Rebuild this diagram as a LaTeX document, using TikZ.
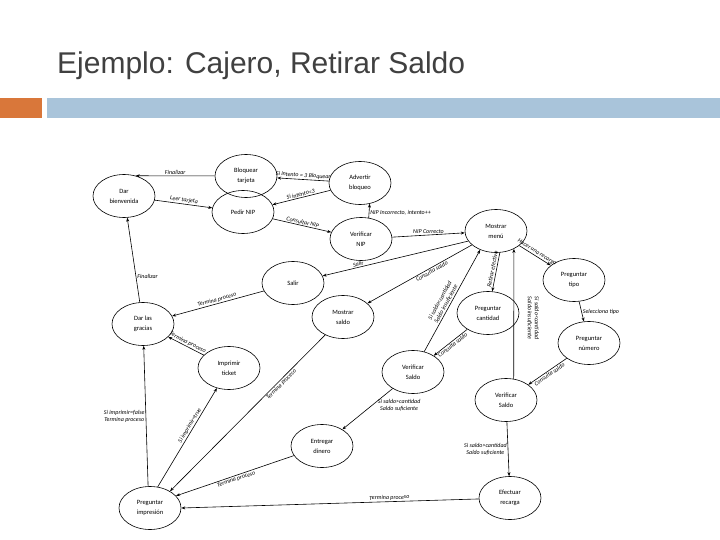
\documentclass[tikz,border=0pt]{standalone}
\usepackage{fontspec}
\setmainfont{Carlito}
\newfontfamily\titlefont{Liberation Sans}
\usetikzlibrary{arrows.meta,shapes.geometric}
\definecolor{tgray}{HTML}{404040}
\definecolor{orng}{HTML}{D9773A}
\definecolor{bbar}{HTML}{A9C4DA}
\begin{document}
\begin{tikzpicture}[x=1pt,y=-1pt,
  st/.style={draw,ellipse,minimum width=62pt,minimum height=43pt,inner sep=0pt,align=center,font=\fontsize{6.5}{10}\selectfont,line width=0.6pt},
  tr/.style={-{Stealth[length=4pt,width=3pt]},line width=0.6pt},
  lb/.style={font=\fontsize{6}{7}\selectfont\itshape,align=center,inner sep=1pt}]
\useasboundingbox (0,0) rectangle (720,540);
\node[anchor=base west,text=tgray,font=\titlefont\fontsize{30}{34}\selectfont,inner sep=0] (title) at (57,74) {Ejemplo: Cajero, Retirar Saldo};
\fill[orng] (0,98) rectangle (42,118);
\fill[bbar] (47,98) rectangle (720,118);

\node[st] (bien) at (124,196) {Dar\\bienvenida};
\node[st] (bloq) at (246,176) {Bloquear\\tarjeta};
\node[st] (adv) at (360,183) {Advertir\\bloqueo};
\node[st] (pnip) at (243,212) {Pedir NIP};
\node[st] (vnip) at (361,239) {Verificar\\NIP};
\node[st] (menu) at (496,231) {Mostrar\\menú};
\node[st] (ptipo) at (574,280) {Preguntar\\tipo};
\node[st] (pnum) at (589,343) {Preguntar\\número};
\node[st] (salir) at (293,283) {Salir};
\node[st] (msaldo) at (343,317) {Mostrar\\saldo};
\node[st] (pcant) at (488,313) {Preguntar\\cantidad};
\node[st] (grac) at (143,324) {Dar las\\gracias};
\node[st] (tick) at (229,368) {Imprimir\\ticket};
\node[st] (vs1) at (413,372) {Verificar\\Saldo};
\node[st] (vs2) at (506,400) {Verificar\\Saldo};
\node[st] (entr) at (322,446) {Entregar\\dinero};
\node[st] (pimp) at (150,508) {Preguntar\\impresión};
\node[st] (efec) at (510,498) {Efectuar\\recarga};

\draw[tr] (bloq) -- node[lb,above,sloped] {Finalizar} (bien.60);
\draw[tr] (adv) -- node[lb,above,sloped] {Si intento = 3 Bloquear} (bloq);
\draw[tr] (adv) -- node[lb,above,sloped] {Si intento<3} (pnip);
\draw[tr] (bien) -- node[lb,above,sloped] {Leer tarjeta} (pnip);
\draw[tr] (pnip) -- node[lb,above,sloped] {Consultar NIP} (vnip);
\draw[tr] (vnip.70) -- node[lb,right,pos=0.35] {NIP Incorrecto, intento++} (adv.-65);
\draw[tr] (vnip) -- node[lb,above] {NIP Correcto} (menu);
\draw[tr] (menu.200) -- node[lb,above,sloped,pos=0.75] {Salir} (salir);
\draw[tr] (menu.210) -- node[lb,below,sloped,pos=0.4] {Consulta saldo} (msaldo);
\draw[tr] (menu) -- node[lb,above,sloped] {Hacer una recarga} (ptipo);
\draw[tr] (menu.-80) -- node[lb,above,sloped,pos=0.45] {Retirar efectivo} (pcant);
\draw[tr] (ptipo) -- node[lb,right] {Selecciona tipo} (pnum);
\draw[tr] (pnum) -- node[lb,below,sloped] {Consulta saldo} (vs2);
\draw[tr] (vs2.70) coordinate (v2t) -- (menu.-45) coordinate (mb);
\node[lb,rotate=-90] (lins2) at (533,318) {Si saldo<cantidad\\Saldo insuficiente};
\draw[tr] (vs2) -- node[lb,left] {Si saldo>cantidad\\Saldo suficiente} (efec);
\draw[tr] (pcant) -- node[lb,below,sloped] {Consulta saldo} (vs1);
\draw[tr] (vs1) -- node[lb,above,sloped,pos=0.45] {Si saldo<cantidad\\Saldo insuficiente} (menu.-130);
\draw[tr] (vs1) -- node[lb,right,pos=0.4,xshift=4pt] {Si saldo>cantidad\\Saldo suficiente} (entr);
\draw[tr] (salir) -- node[lb,above,sloped] {Termina proceso} (grac);
\draw[tr] (tick) -- node[lb,above,sloped] {Termina proceso} (grac);
\draw[tr] (grac) -- node[lb,right,pos=0.3] {Finalizar} (bien);
\draw[tr] (pimp.95) -- node[lb,left,pos=0.5] {Si imprimir=false\\Termina proceso} (grac);
\draw[tr] (pimp.70) -- node[lb,above,sloped,pos=0.6] {Si imprimir=true} (tick);
\draw[tr] (msaldo) -- node[lb,below,sloped,pos=0.3] {Termina proceso} (pimp.40);
\draw[tr] (entr) -- node[lb,below,sloped] {Termina proceso} (pimp.25);
\draw[tr] (efec) -- node[lb,above,sloped,pos=0.3] {Termina proceso} (pimp.east);
\end{tikzpicture}
\end{document}
